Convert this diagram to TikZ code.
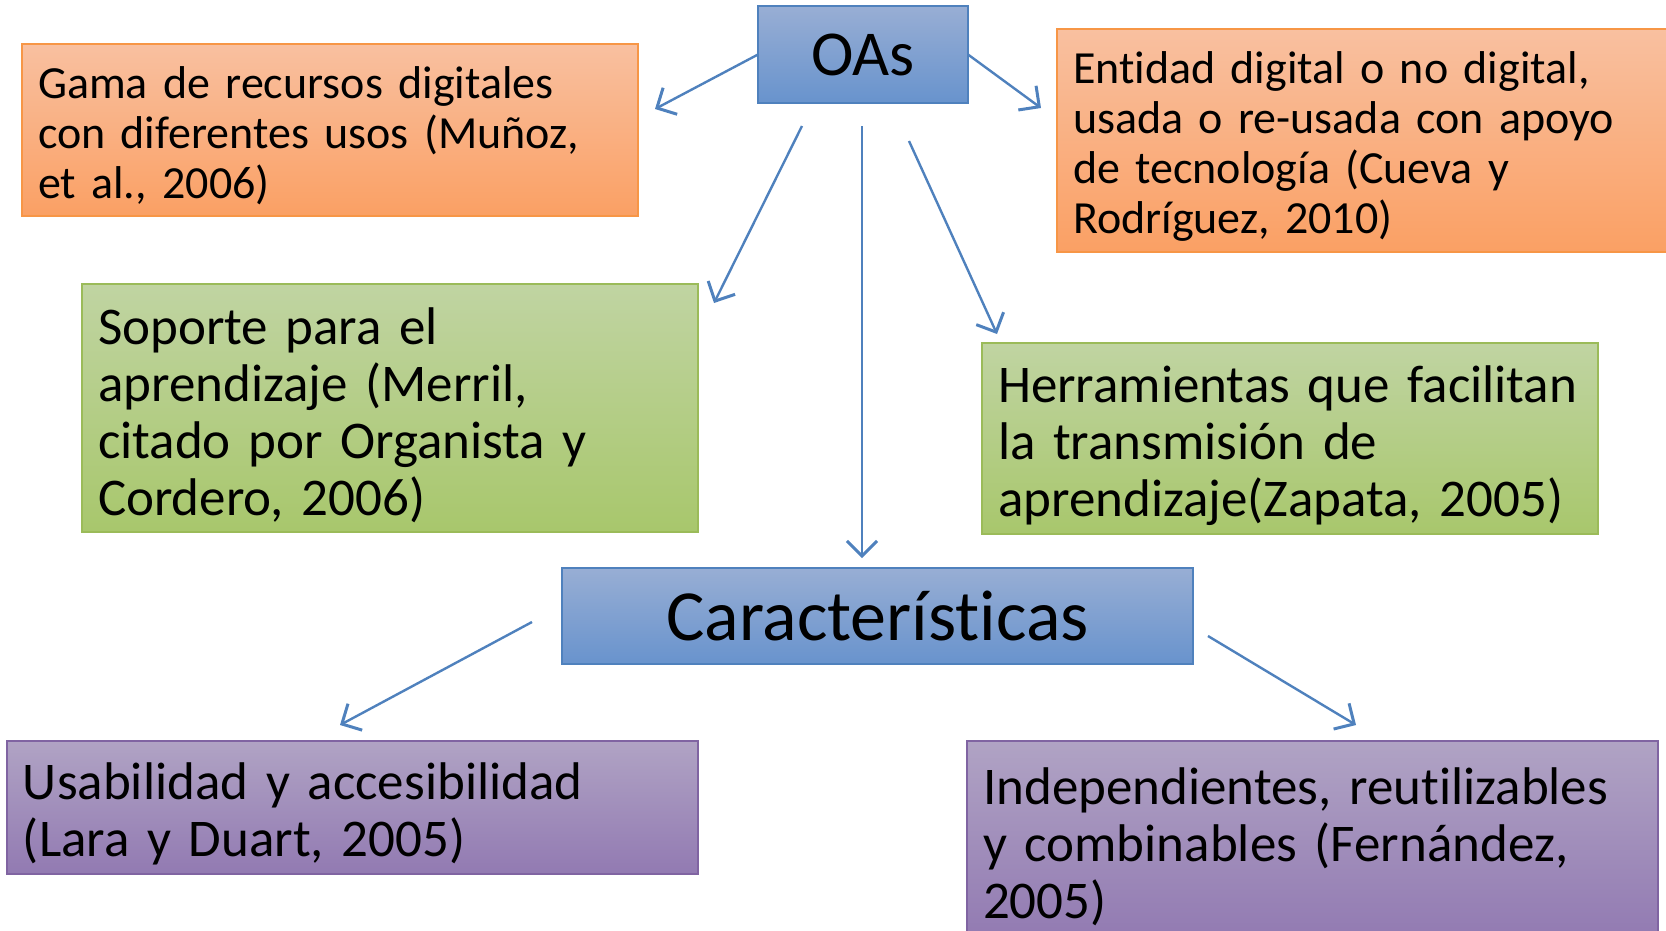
\documentclass[tikz,border=0pt]{standalone}
\usepackage{fontspec}
\setmainfont{Carlito}[Ligatures=NoCommon,WordSpace=0.75]
\usetikzlibrary{arrows.meta}
\definecolor{orgtop}{RGB}{249,192,160}
\definecolor{orgbot}{RGB}{250,160,100}
\definecolor{orgline}{RGB}{247,150,70}
\definecolor{grntop}{RGB}{192,212,162}
\definecolor{grnbot}{RGB}{168,199,108}
\definecolor{grnline}{RGB}{155,187,89}
\definecolor{blutop}{RGB}{152,174,212}
\definecolor{blubot}{RGB}{104,147,205}
\definecolor{bluline}{RGB}{79,129,189}
\definecolor{purtop}{RGB}{176,163,196}
\definecolor{purbot}{RGB}{146,122,178}
\definecolor{purline}{RGB}{128,100,162}
\begin{document}
\begin{tikzpicture}[x=1pt,y=-1pt,
  box/.style={draw,line width=2pt,anchor=north west,outer sep=0pt,
    inner xsep=16pt,align=left,execute at begin node={\rule{0pt}{0.95em}}},
  orgbox/.style={box,draw=orgline,top color=orgtop,bottom color=orgbot,
    font=\fontsize{46}{50}\selectfont},
  grnbox/.style={box,draw=grnline,top color=grntop,bottom color=grnbot,
    font=\fontsize{53}{57}\selectfont},
  purbox/.style={box,draw=purline,top color=purtop,bottom color=purbot,
    font=\fontsize{53}{57}\selectfont},
  blubox/.style={draw=bluline,line width=2pt,anchor=north west,outer sep=0pt,
    top color=blutop,bottom color=blubot,align=center},
  conn/.style={draw=bluline,line width=2.4pt,
    -{Straight Barb[length=15pt,width=30pt,line width=3pt]}}]
\useasboundingbox (0,0) rectangle (1666,930);
\clip (0,0) rectangle (1666,930);
% top concept
\node[blubox,minimum width=210pt,minimum height=97pt,
  font=\fontsize{64}{70}\selectfont] (oas) at (758,6) {OAs};
% definitions
\node[orgbox,minimum width=616pt,minimum height=172pt,text width=584pt]
  (gama) at (22,44) {Gama de recursos digitales\\con diferentes usos (Muñoz,\\et al., 2006)};
\node[orgbox,minimum width=640pt,minimum height=223pt,text width=608pt]
  (entidad) at (1057,29) {Entidad digital o no digital,\\usada o re-usada con apoyo\\de tecnología (Cueva y\\Rodríguez, 2010)};
\node[grnbox,minimum width=616pt,minimum height=248pt,text width=584pt]
  (soporte) at (82,284) {Soporte para el\\aprendizaje (Merril,\\citado por Organista y\\Cordero, 2006)};
\node[grnbox,minimum width=616pt,minimum height=191pt,text width=584pt]
  (herram) at (982,343) {Herramientas que facilitan\\la transmisión de\\aprendizaje(Zapata, 2005)};
% second concept
\node[blubox,minimum width=631pt,minimum height=96pt,
  font=\fontsize{72}{78}\selectfont] (caract) at (562,568) {Características};
\node[purbox,minimum width=691pt,minimum height=133pt,text width=659pt]
  (usab) at (7,741) {Usabilidad y accesibilidad\\(Lara y Duart, 2005)};
\node[purbox,minimum width=691pt,minimum height=198pt,text width=659pt]
  (indep) at (967,741) {Independientes, reutilizables\\y combinables (Fernández,\\2005)};
% arrow tips
\coordinate (tgama) at (655,109);
\coordinate (tentidad) at (1041,108);
\coordinate (tsoporte) at (714,303);
\coordinate (tcaract) at (862,558);
\coordinate (therram) at (997,334);
\coordinate (tusab) at (340,725);
\coordinate (tindep) at (1356,725);
\draw[conn] (oas.west) -- (tgama);
\draw[conn] (oas.east) -- (tentidad);
\draw[conn] ([xshift=-61pt,yshift=-23pt]oas.south) -- (tsoporte);
\draw[conn] ([xshift=-1pt,yshift=-23pt]oas.south) -- (tcaract);
\draw[conn] ([xshift=46pt,yshift=-38pt]oas.south) -- (therram);
\draw[conn] ([xshift=-30pt,yshift=-6pt]caract.west) -- (tusab);
\draw[conn] ([xshift=15pt,yshift=-20pt]caract.east) -- (tindep);
\end{tikzpicture}
\end{document}
